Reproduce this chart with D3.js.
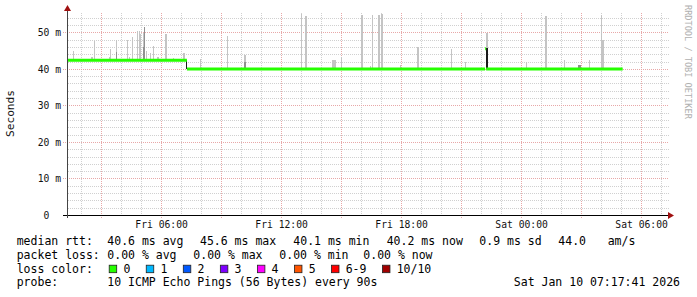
<!DOCTYPE html>
<html><head><meta charset="utf-8">
<script src="https://cdn.jsdelivr.net/npm/d3@7"></script>
<style>
html,body{margin:0;padding:0;background:#fff;}
svg{display:block;font-family:"DejaVu Sans Mono",monospace;}
</style>
</head><body>
<svg id="c" width="697" height="297"></svg>
<script>
// ---------- data ----------
const startHour = 1 + 17/60 + 41/3600;          // Fri 01:17:41 (hours since Fri 00:00)
const endHour = startHour + 30;                   // Sat 07:17:41
const xTickHours  = [6, 12, 18, 24, 30];
const xTickLabels = ["Fri 06:00", "Fri 12:00", "Fri 18:00", "Sat 00:00", "Sat 06:00"];
const yTickValues = [0, 10, 20, 30, 40, 50];
const yTickLabels = ["0", "10 m", "20 m", "30 m", "40 m", "50 m"];
const yMax = 55.3;

// median rtt (ms), step values starting at given hour
const medianHour  = [startHour, 7.29, 22.20, 22.25];
const medianValue = [42.35, 40.0, 45.5, 40.0];
const dataEndHour = 29.08;

// smoke (ping spread) samples
const smokeHour    = [1.61,2.47,2.66,3.39,3.46,3.76,4.29,4.41,4.54,4.79,4.87,4.95,5.09,5.16,5.24,5.44,5.61,5.79,6.17,6.59,7.07,7.25,7.92,9.31,10.12,12.98,13.19,14.54,14.98,15.97,16.45,16.56,16.82,16.99,17.96,18.77,20.51,21.21,22.22,24.25,25.19,26.16,26.85,27.40,27.98,28.00];
const smokeMinutes = [3,6,3,6,3,3,3,3,3,3,3,3,3,3,3,3,3,6,6,3,6,3,3,3,6,3,6,12,3,6,3,3,6,6,3,6,3,3,6,3,6,3,9,3,3,9];
const smokeLow     = [42.3,42.3,42.3,42.3,42.3,42.3,42.3,42.3,42.3,42.3,42.3,42.3,42.3,42.3,42.3,42.3,42.3,42.3,42.3,42.3,42.3,40.0,40.0,40.0,40.0,40.0,40.0,40.0,40.0,40.0,40.0,40.0,40.0,40.0,40.0,40.0,40.0,40.0,40.0,40.0,40.0,40.0,40.0,40.0,40.0,40.0];
const smokeHigh    = [44.9,43.2,47.5,43.2,45.4,48.0,48.0,43.2,48.7,50.5,50.3,49.6,49.8,51.5,45.0,44.4,46.3,43.3,49.6,43.1,44.3,42.3,42.8,48.9,43.9,54.9,54.6,42.3,43.2,54.7,40.9,54.7,54.7,55.0,41.2,45.9,45.4,41.9,49.8,41.9,54.6,42.3,41.0,42.3,54.7,47.8];
const smokeDense   = [null,null,null,null,null,44.5,null,null,null,null,null,null,46.0,51.5,null,null,null,null,null,null,null,null,null,null,42.0,null,null,null,null,null,null,null,null,null,null,null,null,null,null,null,null,null,41.2,null,null,null];
const smokeSolid   = [null,null,null,null,null,null,null,null,null,null,null,null,null,null,null,null,null,null,null,null,null,42.3,null,null,null,null,null,null,null,null,null,null,null,null,null,null,null,null,45.7,null,null,null,null,null,null,null];

// legend values
const rttStats  = [40.6, 45.6, 40.1, 40.2];     // avg, max, min, now
const rttStatNames = ["avg", "max", "min", "now"];
const rttSd = 0.9;
const rttAms = 44.0;
const lossStats = [0.00, 0.00, 0.00, 0.00];
const lossLabels = ["0", "1", "2", "3", "4", "5", "6-9", "10/10"];
const lossColors = ["#26ff00", "#00b8ff", "#0059ff", "#7e00ff", "#ff00ff", "#ff5500", "#ff0000", "#a10000"];
const probeText = "10 ICMP Echo Pings (56 Bytes) every 90s";
const stampText = "Sat Jan 10 07:17:41 2026";

// ---------- drawing ----------
const svg = d3.select("#c");
const L = 67, R = 667, B = 215, T = 13;
const x = d3.scaleLinear().domain([startHour, endHour]).range([L, R]);
const y = d3.scaleLinear().domain([0, yMax]).range([B, T]);

const grid = svg.append("g").attr("shape-rendering", "crispEdges");
// minor horizontal
d3.range(2, yMax, 2).filter(v => v % 10 !== 0).forEach(v => {
  grid.append("line").attr("x1", L + 1).attr("x2", R + 2)
    .attr("y1", Math.round(y(v)) + 0.5).attr("y2", Math.round(y(v)) + 0.5)
    .attr("stroke", "#d0d0d0").attr("stroke-dasharray", "1,1");
});
// minor vertical
d3.range(Math.ceil(startHour), endHour).filter(h => h % 3 !== 0).forEach(h => {
  grid.append("line").attr("y1", T).attr("y2", B)
    .attr("x1", Math.round(x(h)) + 0.5).attr("x2", Math.round(x(h)) + 0.5)
    .attr("stroke", "#d0d0d0").attr("stroke-dasharray", "1,1");
});
// major horizontal
d3.range(10, yMax, 10).forEach(v => {
  grid.append("line").attr("x1", L - 4).attr("x2", R + 2)
    .attr("y1", Math.round(y(v)) + 0.5).attr("y2", Math.round(y(v)) + 0.5)
    .attr("stroke", "#e8a8a8").attr("stroke-dasharray", "1,1");
});
// major vertical
d3.range(Math.ceil(startHour / 3) * 3, endHour, 3).forEach(h => {
  grid.append("line").attr("y1", T).attr("y2", B + 3)
    .attr("x1", Math.round(x(h)) + 0.5).attr("x2", Math.round(x(h)) + 0.5)
    .attr("stroke", "#e8a8a8").attr("stroke-dasharray", "1,1");
});

// smoke
const smoke = svg.append("g").attr("shape-rendering", "crispEdges");
smokeHour.forEach((h, i) => {
  const x0 = x(h), x1 = x(h + smokeMinutes[i] / 60);
  smoke.append("rect").attr("x", x0).attr("width", Math.max(1, x1 - x0))
    .attr("y", y(smokeHigh[i])).attr("height", y(smokeLow[i]) - y(smokeHigh[i]))
    .attr("fill", "#c4c4c4");
  if (smokeDense[i] != null) {
    smoke.append("rect").attr("x", x0).attr("width", Math.max(1, x1 - x0))
      .attr("y", y(smokeDense[i])).attr("height", y(smokeLow[i]) - y(smokeDense[i]))
      .attr("fill", "#909090");
  }
  if (smokeSolid[i] != null) {
    smoke.append("rect").attr("x", x0).attr("width", Math.max(1, x1 - x0))
      .attr("y", y(smokeSolid[i])).attr("height", y(smokeLow[i]) - y(smokeSolid[i]))
      .attr("fill", "#1a1a1a");
  }
});

// median band
const medPts = medianHour.map((h, i) => ({h, v: medianValue[i]}));
medPts.push({h: dataEndHour, v: medianValue[medianValue.length - 1]});
const band = d3.area().curve(d3.curveStepAfter)
  .x(d => x(d.h)).y0(d => y(d.v) + 1.5).y1(d => y(d.v) - 1.5);
svg.append("path").datum(medPts).attr("d", band).attr("fill", lossColors[0]);

// axes
const ax = svg.append("g").attr("shape-rendering", "crispEdges");
ax.append("line").attr("x1", L - 4).attr("x2", R + 3).attr("y1", B + 0.5).attr("y2", B + 0.5).attr("stroke", "#000");
ax.append("line").attr("x1", L + 0.5).attr("x2", L + 0.5).attr("y1", B + 3).attr("y2", T - 3).attr("stroke", "#444");
svg.append("path").attr("d", `M${R + 1},${B - 3}L${R + 7},${B + 0.5}L${R + 1},${B + 4}Z`).attr("fill", "#a01010");
svg.append("path").attr("d", `M${L - 3},${T - 2}L${L + 0.5},${T - 8}L${L + 4},${T - 2}Z`).attr("fill", "#a01010");

// tick labels through d3 axes
const xAxis = d3.axisBottom(x).tickValues(xTickHours).tickSize(0).tickPadding(0)
  .tickFormat((d, i) => xTickLabels[i]);
const gx = svg.append("g").attr("transform", `translate(0,${B})`).call(xAxis);
gx.select(".domain").remove();
gx.selectAll("text").attr("y", 13.3).attr("dy", null)
  .attr("font-family", "DejaVu Sans Mono").attr("font-size", "9.7px").attr("fill", "#111");

const yAxis = d3.axisLeft(y).tickValues(yTickValues).tickSize(0).tickPadding(0)
  .tickFormat((d, i) => d === 0 ? "0\u00a0\u00a0" : yTickLabels[i]);
const gy = svg.append("g").attr("transform", `translate(${L - 6},0)`).call(yAxis);
gy.select(".domain").remove();
gy.selectAll("text").attr("dy", "3.4px").attr("x", 0)
  .attr("font-family", "DejaVu Sans Mono").attr("font-size", "9.7px").attr("fill", "#111");

// axis title
svg.append("text").attr("transform", "translate(14.3,113.5) rotate(-90)")
  .attr("text-anchor", "middle").attr("font-size", "11.2px").attr("fill", "#111").text("Seconds");

// watermark
svg.append("text").attr("transform", "translate(685,5) rotate(90)")
  .attr("font-size", "8.6px").attr("fill", "#b0b0b0").text("RRDTOOL / TOBI OETIKER");

// legend
const lg = svg.append("g").attr("font-size", "11.5px").attr("fill", "#000");
const row = i => 245.3 + i * 13.7;
const f1 = d3.format(".1f"), f2 = d3.format(".2f");
const put = (s, px, r, anchor) => lg.append("text").attr("x", px).attr("y", row(r))
  .attr("text-anchor", anchor || "start").style("white-space", "pre").text(s);

put("median rtt:", 16.7, 0);
const rttX = [107.3, 200, 293.3, 386.7];
rttStats.forEach((v, i) => put(`${f1(v)} ms ${rttStatNames[i]}`, rttX[i], 0));
put(`${f1(rttSd)} ms sd`, 479.3, 0);
put(f1(rttAms), 558.3, 0);
put("am/s", 607.7, 0);

put("packet loss:", 16.7, 1);
const lossX = [107.3, 193.3, 279.3, 363.3];
lossStats.forEach((v, i) => put(`${f2(v)} % ${rttStatNames[i]}`, lossX[i], 1));

put("loss color:", 16.7, 2);
let cx = 108.7;
lossLabels.forEach((lab, i) => {
  lg.append("rect").attr("x", cx + 0.5).attr("y", 265.2).attr("width", 7.5).attr("height", 7.5)
    .attr("fill", lossColors[i]).attr("stroke", "#222").attr("stroke-width", 0.8);
  put(lab, cx + 14.7, 2);
  cx = cx + 14.7 + lab.length * 6.95 + 15.4;
});

put("probe:", 16.7, 3);
put(probeText, 107.3, 3);
put(stampText, 680, 3, "end");
</script>
</body></html>
